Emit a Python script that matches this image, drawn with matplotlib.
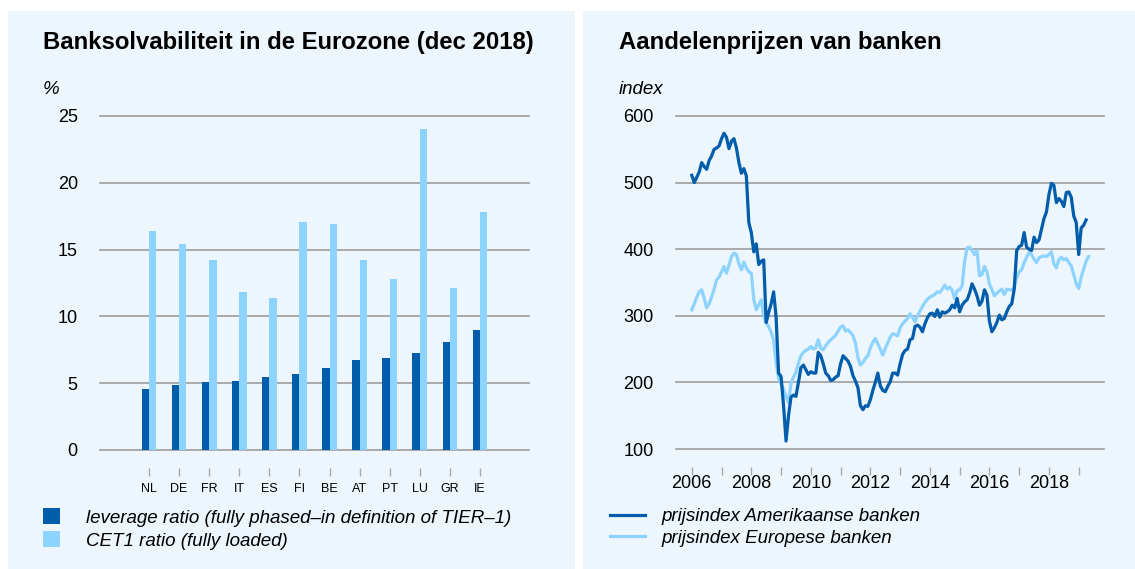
import numpy as np
import matplotlib.pyplot as plt
from matplotlib.patches import Rectangle, Patch
from matplotlib.lines import Line2D

plt.rcParams['font.family'] = ['Liberation Sans', 'DejaVu Sans']

# bank solvency per country (dec 2018), %
countries = ['NL', 'DE', 'FR', 'IT', 'ES', 'FI', 'BE', 'AT', 'PT', 'LU', 'GR', 'IE']
leverage = [4.55, 4.9, 5.07, 5.15, 5.45, 5.72, 6.14, 6.74, 6.87, 7.29, 8.06, 9.0]
cet1 = [16.4, 15.4, 14.2, 11.8, 11.4, 17.1, 16.9, 14.2, 12.8, 24.05, 12.1, 17.8]

# monthly bank share price index, jan 2006 onwards
us_banks = [511, 500, 508, 516, 530, 524, 520, 533, 540, 550, 552, 555,
            566, 574, 568, 551, 562, 566, 552, 530, 514, 521, 510, 440,
            425, 396, 408, 377, 382, 384, 290, 305, 318, 336, 298, 214,
            209, 165, 112, 150, 178, 181, 179, 200, 222, 226, 219, 212,
            216, 214, 214, 245, 240, 228, 214, 210, 203, 204, 208, 210,
            228, 240, 236, 232, 224, 210, 202, 192, 165, 159, 165, 164,
            174, 188, 200, 214, 195, 188, 186, 194, 201, 214, 214, 211,
            228, 242, 248, 250, 264, 266, 284, 286, 283, 276, 288, 297,
            303, 304, 299, 309, 298, 306, 304, 306, 309, 316, 312, 326,
            306, 316, 321, 324, 334, 348, 340, 330, 316, 322, 339, 331,
            292, 276, 282, 290, 301, 294, 296, 306, 314, 318, 340, 398,
            404, 406, 425, 403, 400, 398, 418, 410, 414, 430, 446, 456,
            482, 499, 496, 470, 476, 472, 464, 485, 486, 478, 450, 440,
            392, 432, 436, 444]
eu_banks = [309, 318, 328, 336, 339, 326, 312, 318, 328, 340, 354, 358,
            366, 374, 364, 376, 389, 394, 392, 378, 369, 381, 372, 366,
            364, 325, 309, 316, 324, 300, 289, 284, 275, 264, 230, 206,
            197, 190, 178, 170, 198, 208, 215, 229, 240, 245, 248, 250,
            254, 250, 252, 264, 251, 249, 255, 260, 264, 267, 271, 277,
            283, 285, 277, 279, 275, 270, 259, 237, 226, 230, 236, 240,
            252, 260, 266, 258, 250, 241, 251, 259, 268, 273, 272, 270,
            282, 288, 292, 296, 303, 298, 291, 300, 307, 314, 320, 325,
            328, 330, 332, 336, 335, 340, 346, 340, 343, 338, 326, 338,
            339, 345, 382, 402, 403, 398, 392, 398, 360, 362, 374, 366,
            348, 339, 330, 334, 337, 340, 332, 340, 339, 339, 342, 357,
            366, 369, 380, 388, 395, 392, 385, 380, 387, 389, 390, 389,
            392, 396, 378, 372, 384, 388, 384, 386, 380, 375, 362, 348,
            341, 358, 370, 382, 389]

dark = '#005dab'
light = '#8dd3ff'
grid_col = '#9c9c9c'
panel_col = '#edf6fd'

W, H = 1135, 569
fig = plt.figure(figsize=(W / 100, H / 100), dpi=100)
fig.patch.set_facecolor('white')

# light blue panels behind both charts
fig.patches.append(Rectangle((8 / W, 0), 567 / W, 1 - 11 / H, transform=fig.transFigure,
                             facecolor=panel_col, edgecolor='none', zorder=-5))
fig.patches.append(Rectangle((583 / W, 0), 552 / W, 1 - 11 / H, transform=fig.transFigure,
                             facecolor=panel_col, edgecolor='none', zorder=-5))


def style_axes(ax):
    ax.set_facecolor('none')
    for s in ['top', 'right', 'left']:
        ax.spines[s].set_visible(False)
    ax.spines['bottom'].set_position(('outward', 13))
    ax.spines['bottom'].set_visible(False)
    ax.yaxis.grid(True, color=grid_col, linewidth=1.2)
    ax.set_axisbelow(True)
    ax.tick_params(axis='y', length=0, pad=16, labelsize=13)
    ax.tick_params(axis='x', length=6, width=1, color='#aaaaaa', direction='out')


# ---- left: solvency bars
ax1 = fig.add_axes([100 / W, 1 - 450 / H, 429 / W, 334 / H])
style_axes(ax1)
x = np.arange(len(countries))
bw = 0.243
ax1.bar(x - bw / 2, leverage, bw, color=dark, label='leverage ratio (fully phased\u2013in definition of TIER\u20131)', zorder=2)
ax1.bar(x + bw / 2, cet1, bw, color=light, label='CET1 ratio (fully loaded)', zorder=2)
ax1.set_xlim(-1.63, 12.63)
ax1.set_ylim(0, 25)
ax1.set_yticks([0, 5, 10, 15, 20, 25])
ax1.set_xticks(x)
ax1.set_xticklabels(countries)
ax1.tick_params(axis='x', labelsize=9, pad=5)
for sp in ax1.yaxis.get_gridlines():
    sp.set_clip_on(False)

fig.text(43 / W, 1 - 42 / H, 'Banksolvabiliteit in de Eurozone (dec 2018)', fontsize=17.2,
         fontweight='bold', va='center', ha='left')
fig.text(43 / W, 1 - 89 / H, '%', fontsize=13.5, style='italic', va='center', ha='left')

h1 = [Patch(facecolor=dark), Patch(facecolor=light)]
fig.legend(h1, [ax1.containers[0].get_label(), ax1.containers[1].get_label()],
           loc='upper left', bbox_to_anchor=(43 / W, 1 - 508 / H), frameon=False,
           prop={'size': 13.5, 'style': 'italic'}, handlelength=0.9, handleheight=0.95,
           handletextpad=1.4, labelspacing=0.25, borderpad=0, borderaxespad=0)

# ---- right: bank share prices
ax2 = fig.add_axes([676 / W, 1 - 449 / H, 428 / W, 333 / H])
style_axes(ax2)
t_us = 2006 + np.arange(len(us_banks)) / 12
t_eu = 2006 + np.arange(len(eu_banks)) / 12
ax2.plot(t_eu, eu_banks, color=light, linewidth=2.3, solid_joinstyle='round', zorder=2)
ax2.plot(t_us, us_banks, color=dark, linewidth=2.3, solid_joinstyle='round', zorder=3)
ax2.set_xlim(2005.47, 2019.85)
ax2.set_ylim(100, 600)
ax2.set_yticks([100, 200, 300, 400, 500, 600])
years = np.arange(2006, 2020)
ax2.set_xticks(years)
ax2.set_xticklabels([str(y) if y % 2 == 0 else '' for y in years])
ax2.tick_params(axis='x', labelsize=13, pad=0)
for sp in ax2.yaxis.get_gridlines():
    sp.set_clip_on(False)

fig.text(619 / W, 1 - 43 / H, 'Aandelenprijzen van banken', fontsize=17.2,
         fontweight='bold', va='center', ha='left')
fig.text(619 / W, 1 - 89 / H, 'index', fontsize=13.5, style='italic', va='center', ha='left')

h2 = [Line2D([], [], color=dark, linewidth=2.3), Line2D([], [], color=light, linewidth=2.3)]
fig.legend(h2, ['prijsindex Amerikaanse banken', 'prijsindex Europese banken'],
           loc='upper left', bbox_to_anchor=(610 / W, 1 - 508 / H), frameon=False,
           prop={'size': 13.5, 'style': 'italic'}, handlelength=1.85,
           handletextpad=0.9, labelspacing=0.25, borderpad=0, borderaxespad=0)

fig.savefig('out.png', dpi=100, facecolor=fig.get_facecolor())
